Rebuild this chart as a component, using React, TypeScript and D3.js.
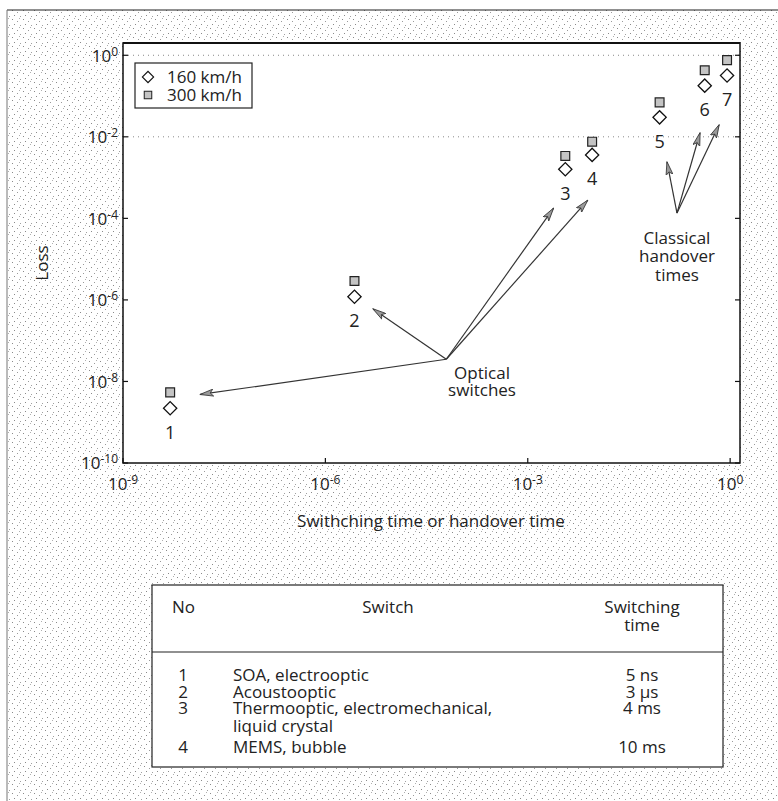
import React from 'react';
import * as d3 from 'd3';

// switch numbers, times and losses
const pointIds = ['1', '2', '3', '4', '5', '6', '7'];
const switchTimes = [5e-9, 2.7e-6, 3.6e-3, 9e-3, 0.09, 0.42, 0.9];
const loss160 = [2.2e-9, 1.2e-6, 1.6e-3, 3.6e-3, 0.03, 0.18, 0.32];
const loss300 = [5.4e-9, 2.9e-6, 3.4e-3, 7.6e-3, 0.07, 0.43, 0.76];

const xTickValues = [1e-9, 1e-6, 1e-3, 1];
const xTickExps = ['-9', '-6', '-3', '0'];
const yTickValues = [1, 1e-2, 1e-4, 1e-6, 1e-8, 1e-10];
const yTickExps = ['0', '-2', '-4', '-6', '-8', '-10'];
const gridValues = [1, 1e-2];

const legendLabels = ['160 km/h', '300 km/h'];

// annotation arrows in data units [time, loss]
const opticalFrom = [6.2e-5, 3.5e-8];
const opticalTargets = [[1.4e-8, 4.8e-9], [5.1e-6, 6e-7], [2.4e-3, 1.76e-4], [7.7e-3, 2.75e-4]];
const opticalTextAt = [2.1e-4, 1.6e-8];
const opticalText = ['Optical', 'switches'];
const classicalFrom = [0.163, 1.35e-4];
const classicalTargets = [[0.116, 2.4e-3], [0.357, 0.0124], [0.684, 0.0195]];
const classicalTextAt = [0.163, 3.3e-5];
const classicalText = ['Classical', 'handover', 'times'];

// table below the plot
const tableNo = ['1', '2', '3', '', '4'];
const tableSwitch = ['SOA, electrooptic', 'Acoustooptic', 'Thermooptic, electromechanical,', 'liquid crystal', 'MEMS, bubble'];
const tableTime = ['5 ns', '3 µs', '4 ms', '', '10 ms'];

const W = 778;
const H = 801;
const font = '"Open Sans", "Noto Sans", sans-serif';
const fs = 17;

export default function App() {
  const m = { left: 123, right: 740, top: 43, bottom: 463 };
  const x = d3.scaleLog().domain([1e-9, 1.4]).range([m.left, m.right]);
  const y = d3.scaleLog().domain([1e-10, 2]).range([m.bottom, m.top]);

  const diamond = d3.symbol().type(d3.symbolSquare).size(88)();
  const square = d3.symbol().type(d3.symbolSquare).size(78)();

  const table = { left: 152, right: 723, top: 585, bottom: 767, sep: 652 };
  const rowY = [675, 692, 708, 726, 747];

  const arrow = (from: number[], to: number[], key: string) => (
    <line key={key} x1={x(from[0])} y1={y(from[1])} x2={x(to[0])} y2={y(to[1])}
      stroke="#333" strokeWidth={1.2} markerEnd="url(#head)" />
  );

  return (
    <svg width={W} height={H} style={{ position: 'absolute', left: 0, top: 0, display: 'block' }}
      fontFamily={font}>
      <defs>
        <pattern id="stipple" width="11" height="9" patternUnits="userSpaceOnUse">
          <rect width="11" height="9" fill="#fff" />
          <rect x="1" y="1" width="1" height="1" fill="#8a8a8a" />
          <rect x="6" y="3" width="1" height="1" fill="#9a9a9a" />
          <rect x="3" y="6" width="1" height="1" fill="#8a8a8a" />
          <rect x="9" y="7" width="1" height="1" fill="#a0a0a0" />
          <rect x="8" y="0" width="1" height="1" fill="#b0b0b0" />
        </pattern>
        <marker id="head" viewBox="0 0 14 8" refX="13" refY="4" markerWidth="14" markerHeight="8"
          markerUnits="userSpaceOnUse" orient="auto">
          <path d="M0,0.5 L13.5,4 L0,7.5 L3,4 Z" fill="#9a9a9a" stroke="#333" strokeWidth={0.8} />
        </marker>
      </defs>

      <rect width={W} height={H} fill="#fff" />
      <rect x={7} y={10} width={W - 7} height={H - 10} fill="url(#stipple)" />
      <line x1={7} y1={10} x2={W} y2={10} stroke="#222" strokeWidth={1.2} />
      <line x1={7} y1={10} x2={7} y2={H} stroke="#777" strokeWidth={1} />

      {/* plot area */}
      <rect x={m.left} y={m.top} width={m.right - m.left} height={m.bottom - m.top} fill="#fff" />
      {gridValues.map((v, i) => (
        <line key={'g' + i} x1={m.left} x2={m.right} y1={y(v)} y2={y(v)}
          stroke="#888" strokeWidth={1} strokeDasharray="1 4" />
      ))}
      <rect x={m.left} y={m.top} width={m.right - m.left} height={m.bottom - m.top}
        fill="none" stroke="#111" strokeWidth={1.5} />
      <line x1={m.left} x2={m.right} y1={m.top} y2={m.top} stroke="#111" strokeWidth={2} />

      {yTickValues.map((v, i) => (
        <g key={'yt' + i}>
          <line x1={m.left} x2={m.left + 5} y1={y(v)} y2={y(v)} stroke="#111" strokeWidth={1.2} />
          <line x1={m.right} x2={m.right - 5} y1={y(v)} y2={y(v)} stroke="#111" strokeWidth={1.2} />
          <text x={118} y={y(v)} dy="0.38em" textAnchor="end" fontSize={fs} fill="#222">
            10<tspan dy="-0.5em" fontSize={12}>{yTickExps[i]}</tspan>
          </text>
        </g>
      ))}
      {xTickValues.map((v, i) => (
        <g key={'xt' + i}>
          <line x1={x(v)} x2={x(v)} y1={m.bottom} y2={m.bottom - 5} stroke="#111" strokeWidth={1.2} />
          <text x={x(v)} y={490} textAnchor="middle" fontSize={fs} fill="#222">
            10<tspan dy="-0.5em" fontSize={12}>{xTickExps[i]}</tspan>
          </text>
        </g>
      ))}

      <text transform="translate(42,263) rotate(-90)" textAnchor="middle" dy="0.35em"
        fontSize={fs} fill="#222">Loss</text>
      <text x={431} y={521} dy="0.35em" textAnchor="middle" fontSize={fs} fill="#222">
        Swithching time or handover time
      </text>

      {/* annotation arrows */}
      {opticalTargets.map((t, i) => arrow(opticalFrom, t, 'oa' + i))}
      {classicalTargets.map((t, i) => arrow(classicalFrom, t, 'ca' + i))}
      {opticalText.map((s, i) => (
        <text key={'ot' + i} x={x(opticalTextAt[0])} y={y(opticalTextAt[1]) + i * 17} dy="0.35em"
          textAnchor="middle" fontSize={fs} fill="#222">{s}</text>
      ))}
      {classicalText.map((s, i) => (
        <text key={'ct' + i} x={x(classicalTextAt[0])} y={y(classicalTextAt[1]) + i * 18.5} dy="0.35em"
          textAnchor="middle" fontSize={fs} fill="#222">{s}</text>
      ))}

      {/* points */}
      {switchTimes.map((t, i) => (
        <g key={'p' + i}>
          <path d={square} transform={`translate(${x(t)},${y(loss300[i])})`}
            fill="#c4c4c4" stroke="#222" strokeWidth={1.2} />
          <path d={diamond} transform={`translate(${x(t)},${y(loss160[i])}) rotate(45)`}
            fill="#fff" stroke="#111" strokeWidth={1.3} />
          <text x={x(t)} y={y(loss160[i]) + 24} dy="0.35em" textAnchor="middle"
            fontSize={18} fill="#222">{pointIds[i]}</text>
        </g>
      ))}

      {/* legend */}
      <rect x={135} y={63} width={117} height={45} fill="#fff" stroke="#222" strokeWidth={1.2} />
      <path d={diamond} transform="translate(148,77) rotate(45) scale(0.85)" fill="#fff"
        stroke="#111" strokeWidth={1.3} />
      <path d={square} transform="translate(148,95) scale(0.85)" fill="#c4c4c4"
        stroke="#222" strokeWidth={1.2} />
      {legendLabels.map((s, i) => (
        <text key={'l' + i} x={167} y={77 + i * 18} dy="0.35em" fontSize={fs} fill="#222">{s}</text>
      ))}

      {/* table */}
      <rect x={table.left} y={table.top} width={table.right - table.left}
        height={table.bottom - table.top} fill="#fff" stroke="#222" strokeWidth={1.2} />
      <line x1={table.left} x2={table.right} y1={table.sep} y2={table.sep} stroke="#222" strokeWidth={1.2} />
      <text x={172} y={607} dy="0.35em" fontSize={fs} fill="#222">No</text>
      <text x={388} y={607} dy="0.35em" textAnchor="middle" fontSize={fs} fill="#222">Switch</text>
      <text x={642} y={607} dy="0.35em" textAnchor="middle" fontSize={fs} fill="#222">Switching</text>
      <text x={642} y={625} dy="0.35em" textAnchor="middle" fontSize={fs} fill="#222">time</text>
      {tableSwitch.map((s, i) => (
        <g key={'r' + i}>
          <text x={183} y={rowY[i]} dy="0.35em" textAnchor="middle" fontSize={fs} fill="#222">{tableNo[i]}</text>
          <text x={233} y={rowY[i]} dy="0.35em" fontSize={fs} fill="#222">{s}</text>
          <text x={642} y={rowY[i]} dy="0.35em" textAnchor="middle" fontSize={fs} fill="#222">{tableTime[i]}</text>
        </g>
      ))}
    </svg>
  );
}
